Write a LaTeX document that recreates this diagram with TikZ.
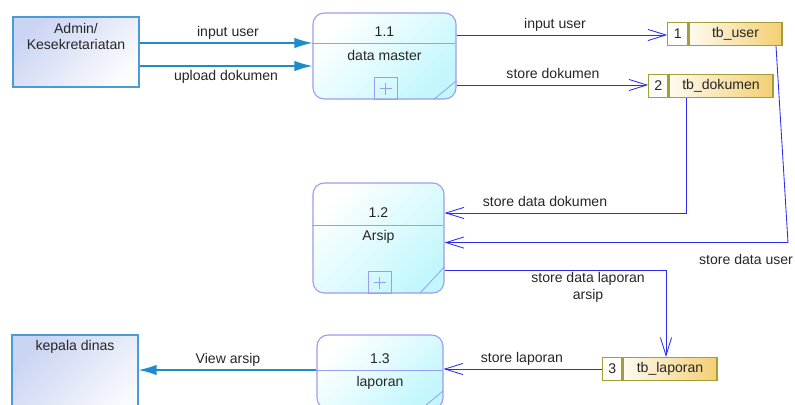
\documentclass[tikz,border=0pt]{standalone}
\usepackage{fontspec}
\setmainfont{Liberation Sans}
\usetikzlibrary{positioning, arrows.meta, calc}

\definecolor{extblue}{HTML}{1E8BCF}
\definecolor{flowblue}{HTML}{2B2BF2}
\definecolor{procedge}{HTML}{9C9CF4}
\definecolor{proccyan}{HTML}{C2F7FD}
\definecolor{entedge}{HTML}{4A9BD6}
\definecolor{entfill}{HTML}{CAD4F3}
\definecolor{storeedge}{HTML}{A39D3C}
\definecolor{storegold}{HTML}{F4CF72}
\definecolor{txt}{HTML}{262626}

\begin{document}
\begin{tikzpicture}[
  x=0.025cm, y=-0.025cm,
  font=\fontsize{10}{12}\selectfont, text=txt,
  ent/.style={draw=entedge, line width=0.8pt, top color=entfill, bottom color=white!92!entfill, shading angle=45, minimum width=3.15cm, minimum height=1.75cm, inner sep=0pt},
  proc/.style={draw=procedge, line width=0.8pt, rounded corners=8pt, top color=white, bottom color=proccyan, shading angle=45, minimum width=3.575cm, minimum height=2.15cm, inner sep=0pt},
  pline/.style={procedge, line width=0.6pt},
  store/.style={draw=storeedge, line width=0.8pt, left color=white!90!storegold, right color=storegold, minimum height=0.575cm, inner sep=0pt},
  num/.style={draw=storeedge, line width=0.8pt, fill=white!96!storegold, minimum width=0.5cm, minimum height=0.575cm, inner sep=0pt},
  lbl/.style={inner sep=0pt, align=center},
  ext/.style={-{Latex[length=4.5mm, width=2.6mm]}, extblue, line width=0.9pt},
  flow/.style={-{Straight Barb[length=4.5mm, width=2.8mm]}, flowblue, line width=0.6pt}
]
\useasboundingbox (0,0) rectangle (795,405);
\clip (0,0) rectangle (795,405);

% --- external entities ---
\node[ent] (admin) at (76,52) {};
\node[lbl] (admintxt) at (76,36.5) {Admin/\\Kesekretariatan};
\node[ent, minimum height=2.25cm] (kepala) at (75,380) {};
\node[lbl] (kepalatxt) at (75,347) {kepala dinas};

% --- processes ---
\node[proc] (p11) at (384.5,56) {};
\draw[pline] (p11.west) ++(0,-13) -- ++(143,0);
\node[lbl] (p11id) at (384.5,32) {1.1};
\node[lbl] (p11name) at (384.5,55) {data master};
\draw[pline] (p11.south) ++(-10.5,0) rectangle ++(23,-22);
\draw[pline] (p11.south) ++(1,-11) ++(-6,0) -- ++(12,0) ++(-6,-6) -- ++(0,12);
\draw[pline] (p11.south east) ++(-23,0) -- ++(23,-19);

\node[proc, minimum width=3.275cm, minimum height=2.75cm] (p12) at (378.5,238) {};
\draw[pline] (p12.west) ++(0,-13) -- ++(131,0);
\node[lbl] (p12id) at (378.5,213) {1.2};
\node[lbl] (p12name) at (378.5,237) {Arsip};
\draw[pline] (p12.south) ++(-10.5,0) rectangle ++(23,-22);
\draw[pline] (p12.south) ++(1,-11) ++(-6,0) -- ++(12,0) ++(-6,-6) -- ++(0,12);
\draw[pline] (p12.south east) ++(-25,0) -- ++(25,-27);

\node[proc, minimum width=3.15cm, minimum height=1.85cm] (p13) at (380,372) {};
\draw[pline] (p13.west) ++(0,-2) -- ++(126,0);
\node[lbl] (p13id) at (380,359) {1.3};
\node[lbl] (p13name) at (380,383) {laporan};
\draw[pline] (p13.south east) ++(-23,0) -- ++(23,-19);

% --- data stores ---
\node[store, minimum width=2.325cm] (tbuser) at (735.5,34) {tb\_user};
\node[num, left=0pt of tbuser] (tbuserno) {1};
\node[store, minimum width=2.6cm] (tbdok) at (721,86) {tb\_dokumen};
\node[num, minimum width=0.475cm, left=0pt of tbdok] (tbdokno) {2};
\node[store, minimum width=2.35cm] (tblap) at (670,369) {tb\_laporan};
\node[num, minimum width=0.475cm, left=0pt of tblap] (tblapno) {3};

% --- flows ---
\draw[ext] (admin.east) ++(0,-9) coordinate (a1) -- (a1 -| p11.west);
\draw[ext] (admin.east) ++(0,14) coordinate (a2) -- (a2 -| p11.west);
\draw[flow] (p11.east) ++(0,-21) coordinate (b1) -- (b1 -| tbuserno.west);
\draw[flow] (p11.east) ++(0,29) coordinate (b2) -- (b2 -| tbdokno.west);
\draw[flow] (tbdok.south) ++(-35,0) |- ([yshift=0.625cm]p12.east);
\draw[flow] (tbuser.south) ++(40.5,0) -- ++(12,196.5) coordinate (c1) -- (c1 -| p12.east);
\draw[flow] (p12.east) ++(0,32) -| ([xshift=-1mm]tblap.north);
\draw[flow] (tblapno.west) -- (tblapno.west -| p13.east);
\draw[ext] (p13.west) ++(0,-2) coordinate (e1) -- (e1 -| kepala.east);

% --- flow labels ---
\node[lbl] (l1) at (228,33) {input user};
\node[lbl] (l2) at (226,77) {upload dokumen};
\node[lbl] (l3) at (555,25) {input user};
\node[lbl] (l4) at (553,73) {store dokumen};
\node[lbl] (l5) at (545,201) {store data dokumen};
\node[lbl] (l6) at (746,259) {store data user};
\node[lbl] (l7) at (588,287) {store data laporan\\arsip};
\node[lbl] (l8) at (522,359) {store laporan};
\node[lbl] (l9) at (228,360) {View arsip};
\end{tikzpicture}
\end{document}
